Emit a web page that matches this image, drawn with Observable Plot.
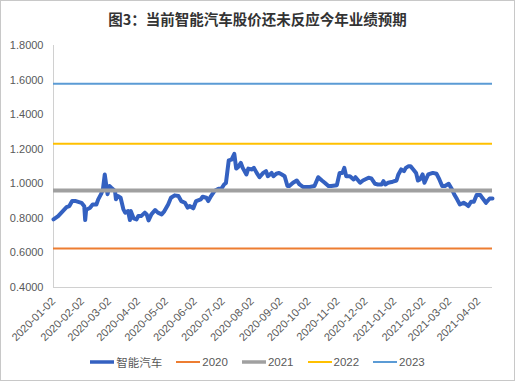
<!DOCTYPE html>
<html>
<head>
<meta charset="utf-8">
<script src="https://cdn.jsdelivr.net/npm/d3@7"></script>
<script src="https://cdn.jsdelivr.net/npm/@observablehq/plot@0.6"></script>
<style>
  html, body { margin: 0; padding: 0; background: #fff; }
  #frame { position: relative; width: 513px; height: 379px; border: 1px solid #c8c8c8; background: #fff;
    font-family: "Liberation Sans", "Noto Sans CJK SC", sans-serif; overflow: hidden; }
  #title { position: absolute; left: 0; top: 7px; width: 513px; text-align: center;
    font-family: "Noto Sans CJK SC", sans-serif; font-weight: bold; font-size: 14.5px; color: #333; }
  #plot { position: absolute; left: 0; top: 30px; }
  #legend { position: absolute; left: 0; top: 353px; width: 513px; display: flex; justify-content: center;
    font-size: 11.5px; color: #595959; font-family: "Liberation Sans", "Noto Sans CJK SC", sans-serif; }
  .item { display: flex; align-items: center; margin: 0 7px; }
  .item svg { margin-right: 2px; }
</style>
</head>
<body>
<div id="frame">
  <div id="title">图3：当前智能汽车股价还未反应今年业绩预期</div>
  <div id="plot"></div>
  <div id="legend"></div>
</div>
<script>
const seriesName = "智能汽车";
const dates = [
"2020-01-02","2020-01-07","2020-01-12","2020-01-16","2020-01-19","2020-01-22","2020-01-26","2020-02-01","2020-02-04","2020-02-05",
"2020-02-06","2020-02-10","2020-02-13","2020-02-17","2020-02-19","2020-02-22","2020-02-24","2020-02-26","2020-02-28","2020-02-29",
"2020-03-02","2020-03-04","2020-03-08","2020-03-09","2020-03-11","2020-03-14","2020-03-17","2020-03-19","2020-03-22","2020-03-24",
"2020-03-25","2020-03-28","2020-03-31","2020-04-02","2020-04-05","2020-04-09","2020-04-11","2020-04-13","2020-04-16","2020-04-20",
"2020-04-23","2020-04-27","2020-04-30","2020-05-04","2020-05-07","2020-05-11","2020-05-15","2020-05-18","2020-05-22","2020-05-25",
"2020-05-27","2020-05-31","2020-06-03","2020-06-08","2020-06-10","2020-06-14","2020-06-16","2020-06-19","2020-06-23","2020-06-27",
"2020-06-30","2020-07-03","2020-07-05","2020-07-08","2020-07-11","2020-07-14","2020-07-16","2020-07-18","2020-07-21","2020-07-23",
"2020-07-27","2020-07-29","2020-08-02","2020-08-04","2020-08-07","2020-08-10","2020-08-14","2020-08-17","2020-08-19","2020-08-23",
"2020-08-25","2020-08-28","2020-08-31","2020-09-03","2020-09-06","2020-09-09","2020-09-11","2020-09-15","2020-09-19","2020-09-22",
"2020-09-26","2020-10-03","2020-10-08","2020-10-12","2020-10-16","2020-10-19","2020-10-23","2020-10-26","2020-11-01","2020-11-04",
"2020-11-07","2020-11-09","2020-11-11","2020-11-15","2020-11-19","2020-11-21","2020-11-26","2020-11-29","2020-12-05","2020-12-08",
"2020-12-12","2020-12-15","2020-12-19","2020-12-21","2020-12-23","2020-12-26","2020-12-31","2021-01-04","2021-01-06","2021-01-09",
"2021-01-12","2021-01-14","2021-01-17","2021-01-19","2021-01-22","2021-01-25","2021-01-27","2021-01-29","2021-02-01","2021-02-03",
"2021-02-07","2021-02-12","2021-02-16","2021-02-19","2021-02-22","2021-02-25","2021-03-01","2021-03-04","2021-03-07","2021-03-10",
"2021-03-13","2021-03-17","2021-03-20","2021-03-22","2021-03-25","2021-03-28","2021-03-31","2021-04-04","2021-04-06","2021-04-10",
"2021-04-14","2021-04-17"
];
const values = [
0.794,0.813,0.842,0.865,0.871,0.900,0.900,0.890,0.870,0.790,
0.850,0.860,0.880,0.880,0.910,0.940,0.967,1.054,0.977,0.940,
0.987,0.977,0.958,0.910,0.929,0.919,0.852,0.833,0.842,0.790,
0.842,0.800,0.794,0.813,0.813,0.833,0.823,0.788,0.823,0.848,
0.833,0.823,0.842,0.880,0.919,0.933,0.929,0.900,0.890,0.862,
0.871,0.858,0.900,0.910,0.925,0.919,0.900,0.929,0.960,0.971,
0.971,0.996,1.005,1.135,1.140,1.173,1.088,1.096,1.121,1.092,
1.054,1.088,1.083,1.092,1.063,1.038,1.063,1.073,1.044,1.063,
1.044,1.058,1.063,1.054,1.044,0.987,0.987,1.006,1.019,0.996,
0.981,0.981,0.987,1.038,1.019,1.006,0.987,0.987,0.992,1.063,
1.063,1.092,1.044,1.044,1.025,1.038,1.006,1.019,1.035,1.031,
1.000,0.996,0.996,1.015,0.996,1.006,1.012,1.019,1.054,1.083,
1.073,1.092,1.102,1.102,1.083,1.063,1.019,1.025,1.054,1.006,
1.054,1.063,1.058,1.025,0.987,0.987,1.000,0.973,0.938,0.910,
0.880,0.890,0.880,0.871,0.896,0.896,0.935,0.935,0.919,0.890,
0.915,0.915
];
const levelNames = ["2020","2021","2022","2023"];
const levelValues = [0.626, 0.961, 1.231, 1.578];
const yTicks = [0.4,0.6,0.8,1.0,1.2,1.4,1.6,1.8];
const xTickLabels = ["2020-01-02","2020-02-02","2020-03-02","2020-04-02","2020-05-02","2020-06-02","2020-07-02","2020-08-02",
  "2020-09-02","2020-10-02","2020-11-02","2020-12-02","2021-01-02","2021-02-02","2021-03-02","2021-04-02"];

const style = {
  main: {color: "#3461C1", width: 4},
  levels: {"2020": {color: "#ED7D31", width: 2}, "2021": {color: "#A0A0A0", width: 4},
           "2022": {color: "#FFC000", width: 2}, "2023": {color: "#5B9BD5", width: 2}}
};

const parse = d3.utcParse("%Y-%m-%d");
const data = dates.map((d, i) => ({date: parse(d), value: values[i]}));
const levels = levelNames.map((n, i) => ({name: n, value: levelValues[i]}));

const chart = Plot.plot({
  width: 513,
  height: 320,
  marginLeft: 52,
  marginRight: 22,
  marginTop: 14,
  marginBottom: 64,
  style: {fontFamily: "'Liberation Sans', 'Noto Sans CJK SC', sans-serif", fontSize: "11px", color: "#595959", background: "transparent"},
  x: {type: "utc", domain: [parse("2020-01-02"), parse("2021-04-17")]},
  y: {domain: [0.4, 1.8]},
  marks: [
    Plot.ruleX([0], {x: () => parse("2020-01-02"), stroke: "#d0d0d0", strokeWidth: 1}),
    Plot.ruleY([0.4], {stroke: "#d0d0d0", strokeWidth: 1}),
    Plot.axisY({ticks: yTicks, tickFormat: d3.format(".4f"), tickSize: 0, tickPadding: 10, label: null, fill: "#595959"}),
    Plot.axisX({ticks: xTickLabels.map(parse), tickFormat: d3.utcFormat("%Y-%m-%d"), tickRotate: -45, tickSize: 0, tickPadding: 12, label: null, fill: "#595959"}),
    Plot.lineY(data, {x: "date", y: "value", stroke: style.main.color, strokeWidth: style.main.width, strokeLinejoin: "round"}),
    ...levels.map(l => Plot.ruleY([l.value], {stroke: style.levels[l.name].color, strokeWidth: style.levels[l.name].width}))
  ]
});
document.getElementById("plot").appendChild(chart);

const legendItems = [{name: seriesName, ...style.main}, ...levelNames.map(n => ({name: n, ...style.levels[n]}))];
const legend = document.getElementById("legend");
for (const it of legendItems) {
  const el = document.createElement("div");
  el.className = "item";
  el.innerHTML = `<svg width="24" height="8"><line x1="0" x2="24" y1="4" y2="4" stroke="${it.color}" stroke-width="${it.width === 4 ? 3.5 : 2}"/></svg><span>${it.name}</span>`;
  legend.appendChild(el);
}
</script>
</body>
</html>
